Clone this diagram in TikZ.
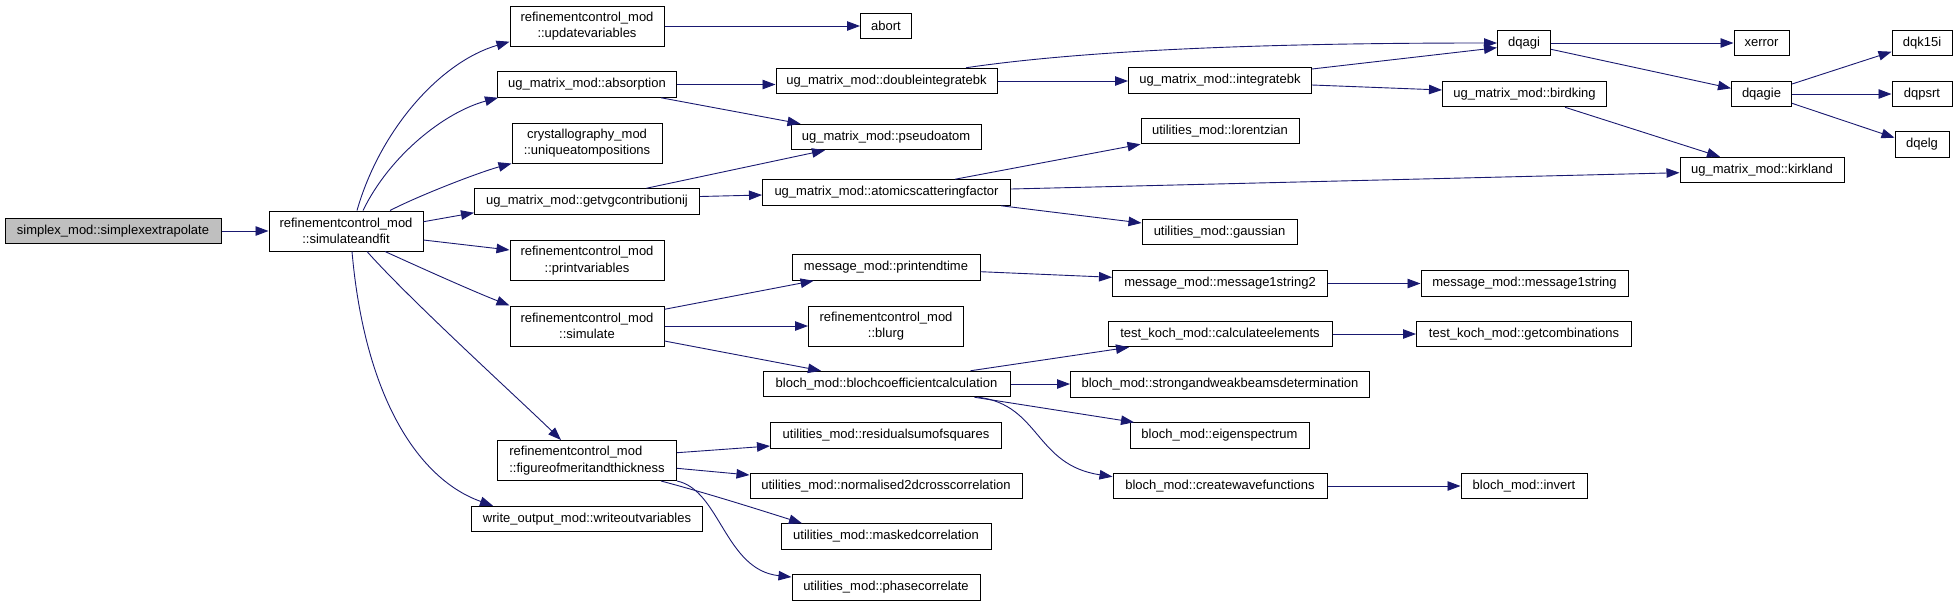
\documentclass[tikz,border=0pt]{standalone}
\usepackage{fontspec}
\setmainfont{Liberation Sans}
\usepackage{tikz}
\usetikzlibrary{arrows.meta, positioning}
\definecolor{callblue}{RGB}{25,25,112}
\definecolor{rootgray}{RGB}{191,191,191}

\begin{document}
\begin{tikzpicture}[x=1pt, y=-1pt,
    fn/.style={draw=black, line width=1pt, fill=white, inner sep=0pt, minimum height=25.5pt, align=center, font=\fontsize{13}{16.5}\selectfont},
    fn2/.style={fn, minimum height=40pt},
    call/.style={draw=callblue, line width=0.9pt, -{Triangle[length=13pt,width=9.5pt]}},
    calls/.style={every edge/.append style={call}}]
    \useasboundingbox (0,0) rectangle (1957,606);

    % caller columns
    \node[fn, fill=rootgray, minimum width=216pt] (simplex) at (113,231) {simplex\_mod::simplexextrapolate};
    \node[fn2, minimum width=154pt] (saf) at (346,231) {refinementcontrol\_mod\\::simulateandfit};

    \node[fn2, minimum width=154pt] (upd) at (587,26) {refinementcontrol\_mod\\::updatevariables};
    \node[fn, minimum width=179pt] (absorp) at (587,84.5) {ug\_matrix\_mod::absorption};
    \node[fn2, minimum width=150pt] (uniq) at (587,143) {crystallography\_mod\\::uniqueatompositions};
    \node[fn, minimum width=225pt] (getvg) at (587,201.5) {ug\_matrix\_mod::getvgcontributionij};
    \node[fn2, minimum width=154pt] (printv) at (587,260.5) {refinementcontrol\_mod\\::printvariables};
    \node[fn2, minimum width=154pt] (simul) at (587,326) {refinementcontrol\_mod\\::simulate};
    \node[fn2, minimum width=179pt, align=left] (fom) at (587,460.5) {refinementcontrol\_mod\\::figureofmeritandthickness};
    \node[fn, minimum width=231pt] (wout) at (587,519) {write\_output\_mod::writeoutvariables};

    \node[fn, minimum width=51pt] (abort) at (886,26) {abort};
    \node[fn, minimum width=221pt] (dint) at (886.5,81) {ug\_matrix\_mod::doubleintegratebk};
    \node[fn, minimum width=190pt] (pseudo) at (886,137) {ug\_matrix\_mod::pseudoatom};
    \node[fn, minimum width=248pt] (atomic) at (886.5,192.5) {ug\_matrix\_mod::atomicscatteringfactor};
    \node[fn, minimum width=188pt] (pend) at (886,267.5) {message\_mod::printendtime};
    \node[fn2, minimum width=155pt] (blurg) at (886,326) {refinementcontrol\_mod\\::blurg};
    \node[fn, minimum width=247pt] (bcoef) at (886.5,384) {bloch\_mod::blochcoefficientcalculation};
    \node[fn, minimum width=231pt] (resid) at (886,435.5) {utilities\_mod::residualsumofsquares};
    \node[fn, minimum width=272pt] (norm) at (886,486) {utilities\_mod::normalised2dcrosscorrelation};
    \node[fn, minimum width=210pt] (masked) at (886,536.5) {utilities\_mod::maskedcorrelation};
    \node[fn, minimum width=188pt] (phase) at (886,587.5) {utilities\_mod::phasecorrelate};

    \node[fn, minimum width=183pt] (intbk) at (1220,80.5) {ug\_matrix\_mod::integratebk};
    \node[fn, minimum width=158pt] (lorentz) at (1220,131) {utilities\_mod::lorentzian};
    \node[fn, minimum width=155pt] (gauss) at (1219.5,232) {utilities\_mod::gaussian};
    \node[fn, minimum width=215pt] (msgtwo) at (1220,283.5) {message\_mod::message1string2};
    \node[fn, minimum width=224pt] (calcel) at (1220,334) {test\_koch\_mod::calculateelements};
    \node[fn, minimum width=299pt] (strong) at (1220,384.5) {bloch\_mod::strongandweakbeamsdetermination};
    \node[fn, minimum width=179pt] (eigen) at (1219.5,435.5) {bloch\_mod::eigenspectrum};
    \node[fn, minimum width=214pt] (cwave) at (1220,486) {bloch\_mod::createwavefunctions};

    \node[fn, minimum width=53pt] (dqagi) at (1524,43) {dqagi};
    \node[fn, minimum width=164pt] (bird) at (1524.5,94) {ug\_matrix\_mod::birdking};
    \node[fn, minimum width=207pt] (msgone) at (1524.5,283.5) {message\_mod::message1string};
    \node[fn, minimum width=215pt] (getcomb) at (1524,334) {test\_koch\_mod::getcombinations};
    \node[fn, minimum width=126pt] (invert) at (1524,486) {bloch\_mod::invert};

    \node[fn, minimum width=55pt] (xerror) at (1761.5,43) {xerror};
    \node[fn, minimum width=60pt] (dqagie) at (1761.5,94) {dqagie};
    \node[fn, minimum width=164pt] (kirk) at (1762,170) {ug\_matrix\_mod::kirkland};

    \node[fn, minimum width=60pt] (dqk) at (1922,43) {dqk15i};
    \node[fn, minimum width=60pt] (dqpsrt) at (1922,94) {dqpsrt};
    \node[fn, minimum width=54pt] (dqelg) at (1922,144.5) {dqelg};

    % calls out of simulateandfit
    \path[calls] (simplex.east) edge (saf.west);
    \draw[call] ([xshift=11pt]saf.north) .. controls (380,130) and (440,62) .. ([yshift=-15.7pt]upd.west);
    \draw[call] ([xshift=17pt]saf.north) .. controls (390,155) and (445,112) .. ([xshift=1pt]absorp.south west);
    \draw[call] ([xshift=44pt]saf.north) .. controls (420,195) and (480,172) .. (uniq.south west);
    \path[calls] ([yshift=9.3pt]saf.east) edge ([yshift=2pt]getvg.south west)
        ([yshift=-9pt]saf.east) edge ([yshift=10.5pt]printv.west);
    \draw[call] ([xshift=39pt]saf.south) .. controls (430,272) and (475,292) .. (simul.north west);
    \draw[call] ([xshift=21pt]saf.south) .. controls (410,300) and (520,400) .. ([xshift=-26pt]fom.north);
    \draw[call] ([xshift=6pt]saf.south) .. controls (365,400) and (420,480) .. ([xshift=22pt]wout.north west);

    % second level
    \path[calls] (upd.east) edge (abort.west)
        (absorp.east) edge (absorp.east -| dint.west)
        ([xshift=-16pt]absorp.south east) edge ([xshift=10pt]pseudo.north west)
        ([xshift=59.4pt]getvg.north) edge ([xshift=-61pt]pseudo.south)
        ([yshift=5pt]getvg.east) edge ([yshift=-2.5pt]atomic.west)
        ([yshift=16.7pt]simul.east) edge ([xshift=-72.4pt]pend.south)
        (simul.east) edge (simul.east -| blurg.west)
        ([yshift=-15pt]simul.east) edge ([xshift=-65.5pt]bcoef.north)
        ([yshift=7.8pt]fom.east) edge ([yshift=-10.5pt]resid.west)
        ([yshift=-7.8pt]fom.east) edge ([yshift=11pt]norm.west);
    \draw[call] ([xshift=-16pt]fom.south east) .. controls (710,494) and (760,510) .. ([xshift=-84pt]masked.north);
    \draw[call] (fom.south east) .. controls (720,490) and (725,570) .. ([yshift=10.5pt]phase.west);

    % third level
    \draw[call] ([xshift=79.5pt]dint.north) .. controls (1100,48) and (1300,43) .. (dqagi.west);
    \path[calls] (dint.east) edge (dint.east -| intbk.west)
        ([xshift=68.5pt]atomic.north) edge (lorentz.south west)
        ([xshift=-10pt]atomic.south east) edge ([yshift=9pt]gauss.west)
        ([yshift=3.5pt]atomic.east) edge ([yshift=-2.7pt]kirk.west)
        ([yshift=-4.2pt]pend.east) edge ([yshift=6.2pt]msgtwo.west)
        ([xshift=84pt]bcoef.north) edge ([xshift=-91pt]calcel.south)
        (bcoef.east) edge (bcoef.east -| strong.west)
        ([xshift=88pt]bcoef.south) edge ([xshift=-85.5pt]eigen.north);
    \draw[call] ([xshift=92pt]bcoef.south) .. controls (1040,405) and (1035,465) .. ([yshift=9.3pt]cwave.west);

    % fourth level and beyond
    \path[calls] ([yshift=11.5pt]intbk.east) edge ([yshift=-4.7pt]dqagi.west)
        ([yshift=-4.5pt]intbk.east) edge ([yshift=4pt]bird.west)
        (msgtwo.east) edge (msgone.west)
        (calcel.east) edge (getcomb.west)
        (cwave.east) edge (invert.west)
        (dqagi.east) edge (xerror.west)
        ([yshift=-6.3pt]dqagi.east) edge ([yshift=5.7pt]dqagie.west)
        ([xshift=40.5pt]bird.south) edge ([xshift=-42pt]kirk.north)
        ([yshift=10pt]dqagie.east) edge ([yshift=-8.7pt]dqk.west)
        (dqagie.east) edge (dqpsrt.west)
        ([yshift=-9.3pt]dqagie.east) edge ([yshift=6.8pt]dqelg.west);
\end{tikzpicture}
\end{document}
